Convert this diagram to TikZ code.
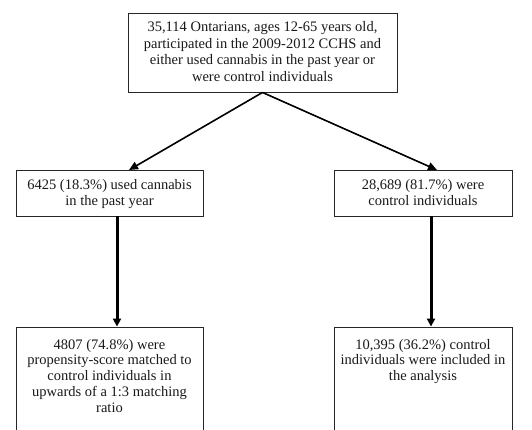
\documentclass[tikz,border=0pt]{standalone}
\usepackage{fontspec}
\setmainfont{Liberation Serif}
\usetikzlibrary{arrows.meta,calc}
\begin{document}
\begin{tikzpicture}[x=1pt,y=-1pt,
  box/.style={draw=black!85,line width=0.9pt,inner sep=0pt},
  txt/.style={align=center,inner sep=0pt,anchor=north,font=\fontsize{14.5}{16.5}\selectfont,text=black!90},
  diag/.style={line width=1.6pt,-{Triangle[length=9pt,width=8pt]}},
  vert/.style={line width=3pt,-{Triangle[length=8pt,width=8pt]}}]
\useasboundingbox (0,0) rectangle (532,429);
\clip (0,0) rectangle (532,429);
\fill[white] (0,0) rectangle (532,429);
% boxes
\node[box,minimum width=269pt,minimum height=79pt] (top) at (262.5,52.5) {};
\node[txt] (toptxt) at (262.5,21.5) {35,114 Ontarians, ages 12-65 years old,\\participated in the 2009-2012 CCHS and\\either used cannabis in the past year or\\were control individuals};
\node[box,minimum width=187pt,minimum height=46pt] (mL) at (109.5,193) {};
\node[txt] (mLtxt) at (109.5,179) {6425 (18.3\%) used cannabis\\in the past year};
\node[box,minimum width=178pt,minimum height=46pt] (mR) at (423,193) {};
\node[txt] (mRtxt) at (423,179) {28,689 (81.7\%) were\\control individuals};
\node[box,minimum width=187pt,minimum height=130pt] (bL) at (109.5,392) {};
\node[txt,font=\fontsize{14.5}{15.7}\selectfont] (bLtxt) at (109.5,339) {4807 (74.8\%) were\\propensity-score matched to\\control individuals in\\upwards of a 1:3 matching\\ratio};
\node[box,minimum width=178pt,minimum height=130pt] (bR) at (423,392) {};
\node[txt,font=\fontsize{14.5}{15.7}\selectfont] (bRtxt) at (423,339) {10,395 (36.2\%) control\\individuals were included in\\the analysis};
% connectors
\coordinate (tipL) at (129,170);
\coordinate (tipR) at (437,170);
\coordinate (aL) at (117,0);
\coordinate (aR) at (431,0);
\draw[diag] (top.south) -- (tipL);
\draw[diag] (top.south) -- (tipR);
\draw[vert] (mL.south -| aL) -- (bL.north -| aL);
\draw[vert] (mR.south -| aR) -- (bR.north -| aR);
\end{tikzpicture}
\end{document}
